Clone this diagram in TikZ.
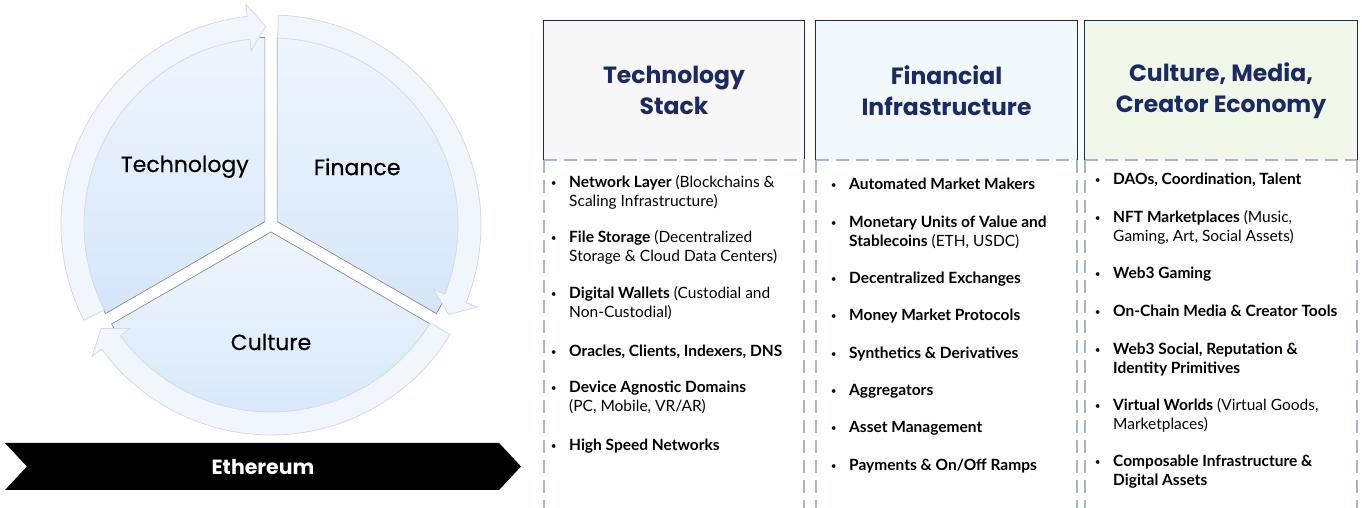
\documentclass[tikz,border=0pt]{standalone}
\usepackage{fontspec}
\setmainfont{Lato}
\newfontfamily\futura{Poppins}
\newfontfamily\futuramed{Poppins}[FakeBold=0.5]
\usetikzlibrary{shapes.symbols}

\definecolor{navy}{HTML}{1B2A63}
\definecolor{dashcol}{HTML}{A6B5CE}
\definecolor{ringfill}{HTML}{F1F6FD}
\definecolor{ringline}{HTML}{CFDBEA}
\definecolor{pietop}{HTML}{EEF5FD}
\definecolor{piebot}{HTML}{D5E6F9}
\definecolor{techfill}{HTML}{F7F7F7}
\definecolor{finfill}{HTML}{F2F9FD}
\definecolor{culfill}{HTML}{F1F8EA}

\tikzset{
  pie/.style={top color=pietop, bottom color=piebot, draw=black!45, line width=0.6pt},
  ring/.style={fill=ringfill, draw=ringline, line width=0.8pt},
  circlelabel/.style={font=\futuramed\fontsize{22}{27}\selectfont},
  headbox/.style={minimum height=139, inner sep=0pt, align=center, text=navy,
    font=\futura\bfseries\fontsize{23.5}{31}\selectfont},
  navyline/.style={draw=navy, line width=1.2pt},
  listframe/.style={draw=dashcol, line width=2.5pt, dash pattern=on 13pt off 7pt},
  bulletitem/.style={anchor=base west, align=left, inner sep=0pt,
    font=\fontsize{15.5}{19}\selectfont},
  banner/.style={signal, signal to=east, signal from=west, signal pointer angle=94,
    fill=black, minimum width=516, minimum height=47, inner sep=0pt,
    text=white, font=\futura\bfseries\fontsize{20.5}{24}\selectfont}
}
\newcommand\bul{\llap{\raisebox{1.6pt}{\fontsize{10}{10}\selectfont\textbullet}\hspace{12.5pt}}}

\begin{document}
\begin{tikzpicture}[x=1pt,y=1pt]
\useasboundingbox (0,0) rectangle (1370,508);

% the cycle
\begin{scope}[shift={(271,283)}]
\foreach \a/\m in {90/150, -30/30, 210/270}
  \filldraw[pie, shift={(\m:7)}] (0,0) -- (\a:184) arc[start angle=\a, end angle=\a+120, radius=184] -- cycle;
\foreach \s/\b/\t in {207/96.5/91.5, 88/-21.7/-26.7, -31.5/-143.7/-148.7}
  \filldraw[ring] (\s:210) arc[start angle=\s, end angle=\b, radius=210] -- (\b:222) -- (\t:199)
    -- (\b:175) -- (\b:187) arc[start angle=\b, end angle=\s, radius=187] -- cycle;
\node[circlelabel] (tech) at (146:104) {Technology};
\node[circlelabel] (fin) at (34:104) {Finance};
\node[circlelabel] (cul) at (270:117) {Culture};
\end{scope}

\node[banner] (eth) at (263,41.5) {Ethereum};

% headers
\node[headbox, fill=techfill, minimum width=260] (techhead) at (674,417.5) {Technology\\Stack};
\node[headbox, fill=finfill, minimum width=261] (finhead) at (946.5,417.5) {Financial\\Infrastructure};
\node[headbox, fill=culfill, minimum width=272] (culhead) at (1221,417.5) {Culture, Media,\\Creator Economy};
\foreach \h in {techhead, finhead, culhead} {
  \draw[navyline] (\h.south west) |- (\h.north east) -- (\h.south east);
  \draw[listframe] (\h.south west) -- (\h.south east);
  \draw[listframe] (\h.south west) -- ++(0,-350);
  \draw[listframe] (\h.south east) -- ++(0,-350);
}

% technology stack
\node[bulletitem] (net) at (569,301) {\bul\textbf{Network Layer} (Blockchains \&\\Scaling Infrastructure)};
\node[bulletitem] (files) at (569,246) {\bul\textbf{File Storage} (Decentralized\\Storage \& Cloud Data Centers)};
\node[bulletitem] (wallets) at (569,190) {\bul\textbf{Digital Wallets} (Custodial and\\Non-Custodial)};
\node[bulletitem] (oracles) at (569,151) {\bul\textbf{Oracles, Clients, Indexers, DNS}};
\node[bulletitem] (devices) at (569,96) {\bul\textbf{Device Agnostic Domains}\\(PC, Mobile, VR/AR)};
\node[bulletitem] (speed) at (569,57) {\bul\textbf{High Speed Networks}};

% financial infrastructure
\node[bulletitem] (amm) at (849,318) {\bul\textbf{Automated Market Makers}};
\node[bulletitem] (units) at (849,261) {\bul\textbf{Monetary Units of Value and}\\\textbf{Stablecoins} (ETH, USDC)};
\node[bulletitem] (dex) at (849,224) {\bul\textbf{Decentralized Exchanges}};
\node[bulletitem] (money) at (849,187) {\bul\textbf{Money Market Protocols}};
\node[bulletitem] (synth) at (849,149) {\bul\textbf{Synthetics \& Derivatives}};
\node[bulletitem] (aggr) at (849,112) {\bul\textbf{Aggregators}};
\node[bulletitem] (assets) at (849,75) {\bul\textbf{Asset Management}};
\node[bulletitem] (ramps) at (849,37) {\bul\textbf{Payments \& On/Off Ramps}};

% culture, media, creator economy
\node[bulletitem] (daos) at (1113,323) {\bul\textbf{DAOs, Coordination, Talent}};
\node[bulletitem] (nft) at (1113,266) {\bul\textbf{NFT Marketplaces} (Music,\\Gaming, Art, Social Assets)};
\node[bulletitem] (gaming) at (1113,229) {\bul\textbf{Web3 Gaming}};
\node[bulletitem] (media) at (1113,191) {\bul\textbf{On-Chain Media \& Creator Tools}};
\node[bulletitem] (social) at (1113,134) {\bul\textbf{Web3 Social, Reputation \&}\\\textbf{Identity Primitives}};
\node[bulletitem] (worlds) at (1113,78) {\bul\textbf{Virtual Worlds} (Virtual Goods,\\Marketplaces)};
\node[bulletitem] (composable) at (1113,22) {\bul\textbf{Composable Infrastructure \&}\\\textbf{Digital Assets}};
\end{tikzpicture}
\end{document}
